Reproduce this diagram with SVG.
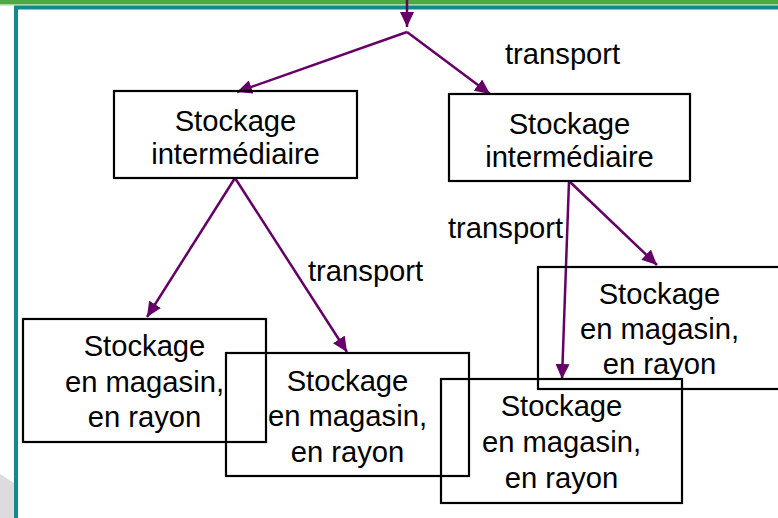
<svg xmlns="http://www.w3.org/2000/svg" width="778" height="518" viewBox="0 0 778 518">
<defs>
<marker id="ah" markerUnits="userSpaceOnUse" markerWidth="15" markerHeight="14" refX="15" refY="7" orient="auto">
<path d="M0,0 L15,7 L0,14 z" fill="#660066"/>
</marker>
<style>
.box{fill:none;stroke:#000;stroke-width:2.2}
.t{font-family:"Liberation Sans",Arial,sans-serif;font-size:29.2px;fill:#000;text-anchor:middle}
.lbl{font-family:"Liberation Sans",Arial,sans-serif;font-size:29.2px;fill:#000}
.c{fill:none;stroke:#660066;stroke-width:2.5}
</style>
</defs>
<rect width="778" height="518" fill="#fff"/>
<g id="frame">
<polygon points="0,474 14,483 14,518 0,518" fill="#dcdcde"/>
<rect x="0" y="0" width="778" height="4" fill="#4ea843"/>
<rect x="0" y="4" width="778" height="1.5" fill="#a8d8a0"/>
<path d="M16,518 V7.5 H778" fill="none" stroke="#14898d" stroke-width="4"/>
</g>
<g id="connectors">
<path class="c" d="M407,0 V27" marker-end="url(#ah)"/>
<path class="c" d="M407,32 L237,92" marker-end="url(#ah)"/>
<path class="c" d="M407,32 L490,94" marker-end="url(#ah)"/>
<path class="c" d="M235,178 L147,317" marker-end="url(#ah)"/>
<path class="c" d="M235,178 L347,352" marker-end="url(#ah)"/>
<path class="c" d="M569,181 L562,379" marker-end="url(#ah)"/>
<path class="c" d="M569,181 L657,265" marker-end="url(#ah)"/>
<text class="lbl" x="505" y="64">transport</text>
<text class="lbl" x="448" y="238">transport</text>
<text class="lbl" x="308" y="281">transport</text>
</g>
<g id="n1">
<rect class="box" x="114" y="91" width="243" height="87"/>
<text class="t" x="235.5" y="131">Stockage</text>
<text class="t" x="235.5" y="164">intermédiaire</text>
</g>
<g id="n2">
<rect class="box" x="449" y="94" width="241" height="87"/>
<text class="t" x="569.5" y="134">Stockage</text>
<text class="t" x="569.5" y="167">intermédiaire</text>
</g>
<g id="n3">
<rect class="box" x="23" y="319" width="243" height="123"/>
<text class="t" x="144.5" y="356">Stockage</text>
<text class="t" x="144.5" y="392">en magasin,</text>
<text class="t" x="144.5" y="427">en rayon</text>
</g>
<g id="n4">
<rect class="box" x="226" y="353" width="243" height="123"/>
<text class="t" x="347.5" y="391">Stockage</text>
<text class="t" x="347.5" y="426">en magasin,</text>
<text class="t" x="347.5" y="462">en rayon</text>
</g>
<g id="n5">
<rect class="box" x="538" y="267" width="243" height="122"/>
<text class="t" x="659.5" y="304">Stockage</text>
<text class="t" x="659.5" y="339">en magasin,</text>
<text class="t" x="659.5" y="374">en rayon</text>
</g>
<g id="n6">
<rect class="box" x="441" y="379" width="241" height="124"/>
<text class="t" x="561.5" y="416">Stockage</text>
<text class="t" x="561.5" y="452">en magasin,</text>
<text class="t" x="561.5" y="488">en rayon</text>
</g>
</svg>
